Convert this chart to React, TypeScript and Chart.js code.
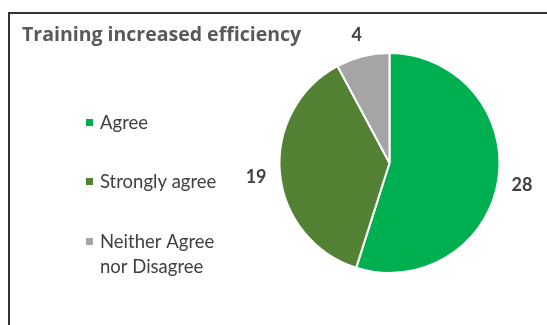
import React, { useEffect, useRef } from "react";
import { Chart, registerables } from "chart.js";

Chart.register(...registerables);

const TITLE = "Training increased efficiency";
const categories = ["Agree", "Strongly agree", "Neither Agree nor Disagree"];
const legendLines = [["Agree"], ["Strongly agree"], ["Neither Agree", "nor Disagree"]];
const values = [28, 19, 4];
const colors = ["#00B050", "#548235", "#A5A5A5"];

const FONT = "Lato, 'Open Sans', sans-serif";
const TITLE_FONT = "'Open Sans', Lato, sans-serif";

const overlayPlugin = {
  id: "overlay",
  afterDraw(chart: any) {
    const ctx = chart.ctx as CanvasRenderingContext2D;
    ctx.save();
    // title
    ctx.fillStyle = "#595959";
    ctx.font = `bold 19.5px ${TITLE_FONT}`;
    ctx.textAlign = "left";
    ctx.textBaseline = "alphabetic";
    ctx.fillText(TITLE, 22, 41);

    // legend
    const baselines = [129, 188, 248];
    ctx.font = `18.5px ${FONT}`;
    legendLines.forEach((lines, i) => {
      const b = baselines[i];
      ctx.fillStyle = colors[i];
      ctx.fillRect(86, b - 10, 7, 7);
      ctx.fillStyle = "#404040";
      lines.forEach((ln, j) => ctx.fillText(ln, 100, b + j * 25));
    });

    // data labels
    const meta = chart.getDatasetMeta(0);
    ctx.font = `bold 18px ${FONT}`;
    ctx.fillStyle = "#404040";
    ctx.textAlign = "center";
    ctx.textBaseline = "middle";
    meta.data.forEach((arc: any, i: number) => {
      const p = arc.getProps(["x", "y", "startAngle", "endAngle", "outerRadius"], true);
      const mid = (p.startAngle + p.endAngle) / 2;
      const d = p.outerRadius + 24;
      ctx.fillText(String(values[i]), p.x + Math.cos(mid) * d, p.y + Math.sin(mid) * d + 2);
    });
    ctx.restore();
  },
};

export default function App() {
  const ref = useRef<HTMLCanvasElement | null>(null);
  useEffect(() => {
    if (!ref.current) return;
    const chart = new Chart(ref.current, {
      type: "pie",
      data: {
        labels: categories,
        datasets: [
          {
            data: values,
            backgroundColor: colors,
            borderColor: "#ffffff",
            borderWidth: 2,
          },
        ],
      },
      options: {
        responsive: false,
        animation: false,
        layout: { padding: { left: 278.5, right: 46.5, top: 52, bottom: 51 } },
        plugins: {
          legend: { display: false },
          title: { display: false },
          tooltip: { enabled: false },
        },
      },
      plugins: [overlayPlugin],
    });
    return () => chart.destroy();
  }, []);
  return (
    <div>
      <div
        style={{
          position: "absolute",
          left: 8,
          top: 12,
          width: 539,
          height: 313,
          borderTop: "2px solid #333",
          borderLeft: "2px solid #333",
          boxSizing: "border-box",
        }}
      />
      <canvas
        ref={ref}
        width={547}
        height={325}
        style={{ position: "absolute", left: 0, top: 0, width: 547, height: 325 }}
      />
    </div>
  );
}
